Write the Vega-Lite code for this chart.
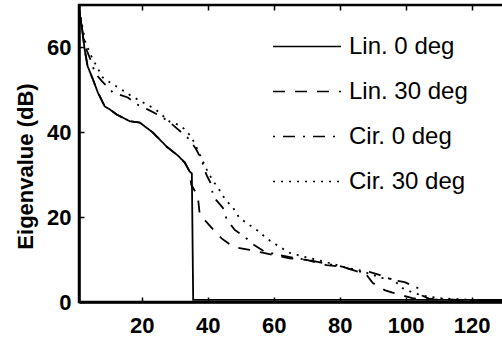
{
  "$schema": "https://vega.github.io/schema/vega-lite/v6.json",
  "autosize": {"type": "none"},
  "padding": {"left": 79, "top": 5, "right": 0, "bottom": 41},
  "width": 429,
  "height": 297,
  "background": "white",
  "config": {
    "font": "Liberation Sans",
    "view": {"stroke": "black", "strokeWidth": 2.5},
    "axis": {"grid": false, "domainColor": "black", "domainWidth": 2.5, "tickColor": "black", "tickWidth": 1.5, "labelColor": "black", "titleColor": "black"}
  },
  "data": {"values": [
    {"series": "Lin. 0 deg", "x": 1, "y": 69},
    {"series": "Lin. 0 deg", "x": 2, "y": 64},
    {"series": "Lin. 0 deg", "x": 2.7, "y": 59.6},
    {"series": "Lin. 0 deg", "x": 3.6, "y": 55.6},
    {"series": "Lin. 0 deg", "x": 5.2, "y": 52.5},
    {"series": "Lin. 0 deg", "x": 6.7, "y": 49.4},
    {"series": "Lin. 0 deg", "x": 8.8, "y": 46.1},
    {"series": "Lin. 0 deg", "x": 10.3, "y": 45.4},
    {"series": "Lin. 0 deg", "x": 12.4, "y": 44.2},
    {"series": "Lin. 0 deg", "x": 16.4, "y": 42.6},
    {"series": "Lin. 0 deg", "x": 19.4, "y": 42.3},
    {"series": "Lin. 0 deg", "x": 23.3, "y": 40},
    {"series": "Lin. 0 deg", "x": 27.6, "y": 36.6},
    {"series": "Lin. 0 deg", "x": 31, "y": 34.5},
    {"series": "Lin. 0 deg", "x": 33, "y": 32.9},
    {"series": "Lin. 0 deg", "x": 34.5, "y": 30.8},
    {"series": "Lin. 0 deg", "x": 35.2, "y": 30.3},
    {"series": "Lin. 0 deg", "x": 35.6, "y": 0.5},
    {"series": "Lin. 0 deg", "x": 131, "y": 0.5},
    {"series": "Lin. 30 deg", "x": 1, "y": 69},
    {"series": "Lin. 30 deg", "x": 2, "y": 64},
    {"series": "Lin. 30 deg", "x": 2.7, "y": 59.6},
    {"series": "Lin. 30 deg", "x": 3.6, "y": 55.6},
    {"series": "Lin. 30 deg", "x": 5.2, "y": 52.5},
    {"series": "Lin. 30 deg", "x": 6.7, "y": 49.4},
    {"series": "Lin. 30 deg", "x": 8.8, "y": 46.1},
    {"series": "Lin. 30 deg", "x": 10.3, "y": 45.4},
    {"series": "Lin. 30 deg", "x": 12.4, "y": 44.2},
    {"series": "Lin. 30 deg", "x": 16.4, "y": 42.6},
    {"series": "Lin. 30 deg", "x": 19.4, "y": 42.3},
    {"series": "Lin. 30 deg", "x": 23.3, "y": 40},
    {"series": "Lin. 30 deg", "x": 27.6, "y": 36.6},
    {"series": "Lin. 30 deg", "x": 31, "y": 34.5},
    {"series": "Lin. 30 deg", "x": 33, "y": 32.9},
    {"series": "Lin. 30 deg", "x": 34.5, "y": 30.8},
    {"series": "Lin. 30 deg", "x": 35, "y": 27.7},
    {"series": "Lin. 30 deg", "x": 37, "y": 24.9},
    {"series": "Lin. 30 deg", "x": 37.6, "y": 20.6},
    {"series": "Lin. 30 deg", "x": 40.6, "y": 18},
    {"series": "Lin. 30 deg", "x": 44.2, "y": 15},
    {"series": "Lin. 30 deg", "x": 47.7, "y": 13},
    {"series": "Lin. 30 deg", "x": 52.7, "y": 12.3},
    {"series": "Lin. 30 deg", "x": 58, "y": 11.4},
    {"series": "Lin. 30 deg", "x": 64.8, "y": 10.3},
    {"series": "Lin. 30 deg", "x": 70, "y": 9.9},
    {"series": "Lin. 30 deg", "x": 76, "y": 8.7},
    {"series": "Lin. 30 deg", "x": 81, "y": 8.3},
    {"series": "Lin. 30 deg", "x": 85, "y": 7.3},
    {"series": "Lin. 30 deg", "x": 88, "y": 6.5},
    {"series": "Lin. 30 deg", "x": 90, "y": 4.5},
    {"series": "Lin. 30 deg", "x": 93.6, "y": 2.8},
    {"series": "Lin. 30 deg", "x": 96, "y": 2.2},
    {"series": "Lin. 30 deg", "x": 98.8, "y": 1.6},
    {"series": "Lin. 30 deg", "x": 102, "y": 0.9},
    {"series": "Lin. 30 deg", "x": 105, "y": 0.6},
    {"series": "Lin. 30 deg", "x": 131, "y": 0.4},
    {"series": "Cir. 0 deg", "x": 1, "y": 69},
    {"series": "Cir. 0 deg", "x": 2, "y": 64},
    {"series": "Cir. 0 deg", "x": 3, "y": 60},
    {"series": "Cir. 0 deg", "x": 4.8, "y": 56.5},
    {"series": "Cir. 0 deg", "x": 5.8, "y": 54},
    {"series": "Cir. 0 deg", "x": 8, "y": 52},
    {"series": "Cir. 0 deg", "x": 11.2, "y": 49.4},
    {"series": "Cir. 0 deg", "x": 15.8, "y": 48.2},
    {"series": "Cir. 0 deg", "x": 18.5, "y": 46.6},
    {"series": "Cir. 0 deg", "x": 21.8, "y": 45.4},
    {"series": "Cir. 0 deg", "x": 26, "y": 43.7},
    {"series": "Cir. 0 deg", "x": 29, "y": 42},
    {"series": "Cir. 0 deg", "x": 31, "y": 40.7},
    {"series": "Cir. 0 deg", "x": 34.5, "y": 38.3},
    {"series": "Cir. 0 deg", "x": 36.5, "y": 36},
    {"series": "Cir. 0 deg", "x": 38.1, "y": 33.6},
    {"series": "Cir. 0 deg", "x": 39.6, "y": 30},
    {"series": "Cir. 0 deg", "x": 41.1, "y": 27.7},
    {"series": "Cir. 0 deg", "x": 41.6, "y": 24.9},
    {"series": "Cir. 0 deg", "x": 44.6, "y": 22.2},
    {"series": "Cir. 0 deg", "x": 45.8, "y": 19.4},
    {"series": "Cir. 0 deg", "x": 48.2, "y": 17},
    {"series": "Cir. 0 deg", "x": 51.2, "y": 15.4},
    {"series": "Cir. 0 deg", "x": 53.7, "y": 13.6},
    {"series": "Cir. 0 deg", "x": 57, "y": 12},
    {"series": "Cir. 0 deg", "x": 62, "y": 11},
    {"series": "Cir. 0 deg", "x": 66, "y": 10.4},
    {"series": "Cir. 0 deg", "x": 70, "y": 10},
    {"series": "Cir. 0 deg", "x": 76, "y": 9},
    {"series": "Cir. 0 deg", "x": 81, "y": 8.3},
    {"series": "Cir. 0 deg", "x": 85, "y": 7.2},
    {"series": "Cir. 0 deg", "x": 89, "y": 7.1},
    {"series": "Cir. 0 deg", "x": 92, "y": 6.4},
    {"series": "Cir. 0 deg", "x": 96, "y": 5.2},
    {"series": "Cir. 0 deg", "x": 99.7, "y": 4.7},
    {"series": "Cir. 0 deg", "x": 103.6, "y": 3.3},
    {"series": "Cir. 0 deg", "x": 105, "y": 1.5},
    {"series": "Cir. 0 deg", "x": 107, "y": 0.8},
    {"series": "Cir. 0 deg", "x": 115, "y": 0.5},
    {"series": "Cir. 0 deg", "x": 131, "y": 0.4},
    {"series": "Cir. 30 deg", "x": 1, "y": 69},
    {"series": "Cir. 30 deg", "x": 3, "y": 61},
    {"series": "Cir. 30 deg", "x": 5, "y": 57.5},
    {"series": "Cir. 30 deg", "x": 8.2, "y": 52.9},
    {"series": "Cir. 30 deg", "x": 10.3, "y": 51.8},
    {"series": "Cir. 30 deg", "x": 14, "y": 50},
    {"series": "Cir. 30 deg", "x": 17, "y": 48.5},
    {"series": "Cir. 30 deg", "x": 20, "y": 47.2},
    {"series": "Cir. 30 deg", "x": 24, "y": 45.5},
    {"series": "Cir. 30 deg", "x": 28.5, "y": 42.5},
    {"series": "Cir. 30 deg", "x": 32, "y": 41.5},
    {"series": "Cir. 30 deg", "x": 35, "y": 39},
    {"series": "Cir. 30 deg", "x": 37.5, "y": 35},
    {"series": "Cir. 30 deg", "x": 39.5, "y": 31.5},
    {"series": "Cir. 30 deg", "x": 41.4, "y": 28.8},
    {"series": "Cir. 30 deg", "x": 43.4, "y": 26.6},
    {"series": "Cir. 30 deg", "x": 45.2, "y": 24.3},
    {"series": "Cir. 30 deg", "x": 47.7, "y": 22.2},
    {"series": "Cir. 30 deg", "x": 49.5, "y": 19.9},
    {"series": "Cir. 30 deg", "x": 52.2, "y": 18.4},
    {"series": "Cir. 30 deg", "x": 55.2, "y": 16.8},
    {"series": "Cir. 30 deg", "x": 58, "y": 14.9},
    {"series": "Cir. 30 deg", "x": 61.8, "y": 13},
    {"series": "Cir. 30 deg", "x": 64.8, "y": 11.6},
    {"series": "Cir. 30 deg", "x": 70, "y": 10.5},
    {"series": "Cir. 30 deg", "x": 75.5, "y": 9.5},
    {"series": "Cir. 30 deg", "x": 82.4, "y": 8},
    {"series": "Cir. 30 deg", "x": 85.5, "y": 7.6},
    {"series": "Cir. 30 deg", "x": 92.7, "y": 5.7},
    {"series": "Cir. 30 deg", "x": 96, "y": 5.4},
    {"series": "Cir. 30 deg", "x": 99, "y": 3.3},
    {"series": "Cir. 30 deg", "x": 102.4, "y": 2.1},
    {"series": "Cir. 30 deg", "x": 106, "y": 1.4},
    {"series": "Cir. 30 deg", "x": 110, "y": 0.9},
    {"series": "Cir. 30 deg", "x": 120, "y": 0.5},
    {"series": "Cir. 30 deg", "x": 131, "y": 0.4}
  ]},
  "layer": [
    {
      "mark": {"type": "line", "color": "black", "strokeWidth": 1.8, "clip": true},
      "encoding": {
        "x": {"field": "x", "type": "quantitative", "scale": {"domain": [1, 131], "nice": false, "zero": false},
          "axis": {"title": null, "values": [20, 40, 60, 80, 100, 120], "tickSize": -5, "labelPadding": 18, "labelFont": "Liberation Sans", "labelFontWeight": "bold", "labelFontSize": 22, "domainWidth": 2.5}},
        "y": {"field": "y", "type": "quantitative", "scale": {"domain": [0, 70], "nice": false},
          "axis": {"title": "Eigenvalue (dB)", "values": [0, 20, 40, 60], "tickSize": -5, "labelPadding": 13, "labelFont": "Liberation Sans", "labelFontWeight": "bold", "labelFontSize": 22, "titleFont": "Liberation Sans", "titleFontWeight": "bold", "titleFontSize": 22, "titlePadding": 9, "titleY": 161}},
        "strokeDash": {"field": "series", "type": "nominal",
          "scale": {"domain": ["Lin. 0 deg", "Lin. 30 deg", "Cir. 0 deg", "Cir. 30 deg"], "range": [[1, 0], [12, 10], [2, 8, 12, 8], [2, 6]]},
          "legend": {"title": null, "orient": "none", "legendX": 193, "legendY": 30, "padding": 0, "symbolType": "stroke", "symbolSize": 4624, "symbolStrokeWidth": 1.5, "symbolStrokeColor": "black", "clipHeight": 23, "rowPadding": 20, "labelOffset": 7, "labelFont": "Liberation Sans", "labelFontSize": 24, "labelColor": "black", "labelLimit": 300}}
      }
    },
    {
      "mark": {"type": "point", "opacity": 0},
      "encoding": {
        "x": {"field": "x", "type": "quantitative", "axis": {"orient": "top", "title": null, "labels": false, "domain": false, "values": [20, 40, 60, 80, 100, 120], "tickSize": -5}},
        "y": {"field": "y", "type": "quantitative"}
      }
    }
  ],
  "resolve": {"axis": {"x": "independent"}}
}
